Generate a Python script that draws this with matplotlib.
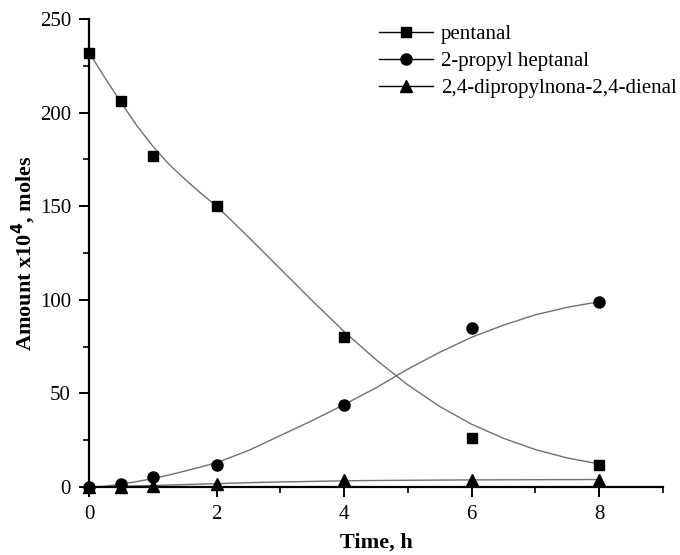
import numpy as np
import matplotlib
matplotlib.use('Agg')
import matplotlib.pyplot as plt
from matplotlib.lines import Line2D
from matplotlib.ticker import MultipleLocator

plt.rcParams['font.family'] = ['Liberation Serif', 'DejaVu Serif']

# measured points
t_meas = [0, 0.5, 1, 2, 4, 6, 8]
pentanal = [232, 206, 177, 150, 80, 26, 12]
heptanal = [0, 1.4, 5.5, 12, 44, 85, 99]
dienal = [0, 0, 0.4, 1.8, 4, 4, 4]

# fitted curves
t_fit = [0, 0.25, 0.5, 0.75, 1, 1.25, 1.5, 1.75, 2, 2.5, 3, 3.5, 4, 4.5, 5, 5.5, 6, 6.5, 7, 7.5, 8]
pentanal_fit = [232, 218.5, 205.5, 193, 182, 172.5, 164.5, 157, 150, 133.5, 116.5, 99.5, 83, 68, 54.5, 43, 33.5, 26, 20, 15.5, 12.3]
heptanal_fit = [0, 0.4, 1.5, 2.9, 4.5, 6.4, 8.5, 10.7, 13, 19.5, 27.5, 35.5, 44, 53, 63, 72, 80, 86.5, 92, 96, 99]
dienal_fit = [0, 0.2, 0.4, 0.6, 0.8, 1.05, 1.3, 1.55, 1.8, 2.3, 2.7, 3.0, 3.3, 3.5, 3.6, 3.7, 3.8, 3.85, 3.9, 3.95, 4]

labels = ['pentanal', '2-propyl heptanal', '2,4-dipropylnona-2,4-dienal']
markers = ['s', 'o', '^']

fig = plt.figure(figsize=(6.8, 5.55), dpi=100)
ax = fig.add_axes([0.131, 0.1225, 0.844, 0.8433])

line_col = '#707070'
for yfit in [pentanal_fit, heptanal_fit, dienal_fit]:
    ax.plot(t_fit, yfit, color=line_col, lw=1.0, zorder=2)

ax.plot(t_meas, pentanal, 's', color='black', ms=7, zorder=3, clip_on=False)
ax.plot(t_meas, heptanal, 'o', color='black', ms=8, zorder=3, clip_on=False)
ax.plot(t_meas, dienal, '^', color='black', ms=8, zorder=3, clip_on=False)

ax.set_xlim(0, 9)
ax.set_ylim(0, 250)
ax.xaxis.set_major_locator(MultipleLocator(2))
ax.xaxis.set_minor_locator(MultipleLocator(1))
ax.yaxis.set_major_locator(MultipleLocator(50))
ax.yaxis.set_minor_locator(MultipleLocator(25))

for s in ['top', 'right']:
    ax.spines[s].set_visible(False)
for s in ['left', 'bottom']:
    ax.spines[s].set_linewidth(1.6)

ax.tick_params(which='major', direction='out', length=7, width=1.4, labelsize=15, pad=6)
ax.tick_params(which='minor', direction='out', length=4, width=1.2)

ax.set_xlabel('Time, h', fontsize=16, fontweight='bold', labelpad=6)
ax.set_ylabel('Amount x10$^{\\mathbf{4}}$, moles', fontsize=16, fontweight='bold', labelpad=1)

handles = [Line2D([0], [0], color='black', lw=1.0, marker=m, ms=8 if m != 's' else 7,
                  markerfacecolor='black', markeredgecolor='black') for m in markers]
ax.legend(handles, labels, loc='upper left', bbox_to_anchor=(0.49, 1.006), frameon=False,
          fontsize=15, handlelength=2.6, handletextpad=0.4, labelspacing=0.35,
          borderaxespad=0)

fig.savefig('out.png', dpi=100)
